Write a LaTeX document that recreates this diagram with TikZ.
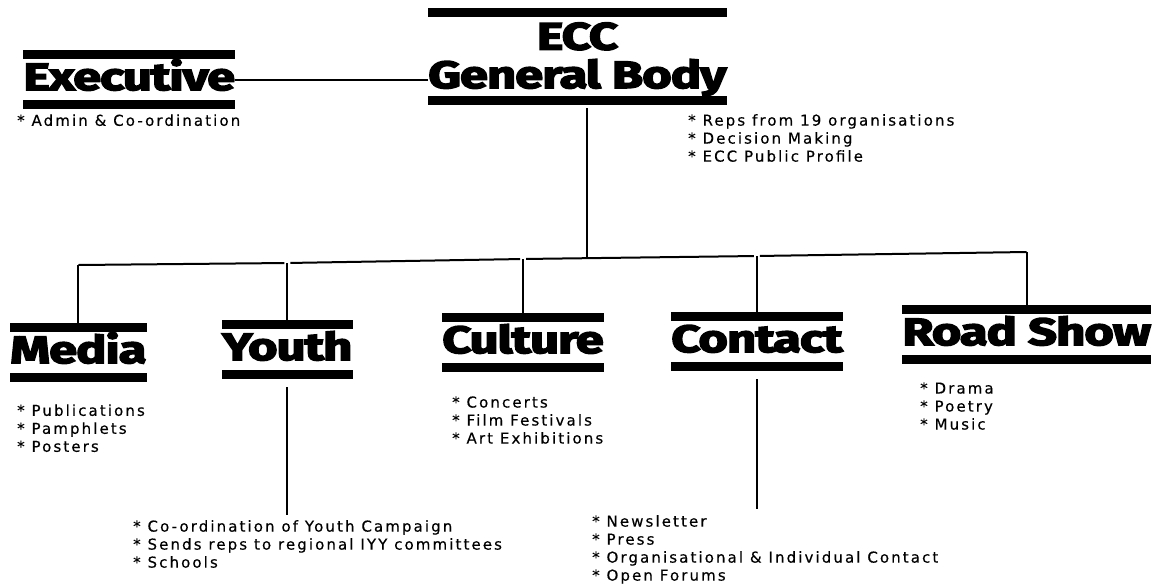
\documentclass[tikz,border=0pt]{standalone}
\usepackage{fontspec}
\usetikzlibrary{positioning}
\newfontfamily\headfont{Fira Sans}[FakeStretch=1.34, FakeBold=4, LetterSpace=-3]
\newfontfamily\listfont{DejaVu Sans}[LetterSpace=14, FakeBold=0.4]

\begin{document}
\begin{tikzpicture}[
        x=1pt, y=-1pt,
        node distance=6pt,
        headbox/.style={inner sep=0pt, font=\headfont\bfseries\fontsize{38}{32}\selectfont,
            text height=40pt, text depth=19pt},
        duties/.style={inner sep=0pt, align=left, font=\listfont\fontsize{15}{18}\selectfont},
        link/.style={line width=2pt}
    ]
    \useasboundingbox (0,0) rectangle (1157,584);

    % The headings
    \node (gb) [headbox, text height=80pt, text depth=17pt, anchor=base west] at (428,88)
        {\begin{tabular}[b]{@{}c@{}}ECC\\General Body\end{tabular}};
    \node (exec) [headbox, anchor=base west] at (23,90) {Executive};
    \node (media) [headbox, anchor=base west] at (10,363) {Media};
    \node (youth) [headbox, anchor=base west] at (222,360) {Youth};
    \node (culture) [headbox, anchor=base west] at (442,353) {Culture};
    \node (contact) [headbox, anchor=base west] at (671,352) {Contact};
    \node (road) [headbox, anchor=base west] at (902,345) {Road Show};

    % Bars above and below each heading
    \foreach \n in {gb, exec, media, youth, culture, contact, road} {
        \fill (\n.north west) rectangle ([yshift=-9pt]\n.north east);
        \fill ([yshift=9pt]\n.south west) rectangle (\n.south east);
    }

    % The duties under each heading
    \node (execlist) [duties, below=5pt of exec.south west, anchor=north west, xshift=-6pt] {* Admin \& Co-ordination};
    \node (gblist) [duties, anchor=north west] at (688,114) {* Reps from 19 organisations\\* Decision Making\\* ECC Public Profile};
    \node (medialist) [duties, below=22pt of media.south west, anchor=north west, xshift=7pt] {* Publications\\* Pamphlets\\* Posters};
    \node (culturelist) [duties, below=24pt of culture.south west, anchor=north west, xshift=10pt] {* Concerts\\* Film Festivals\\* Art Exhibitions};
    \node (roadlist) [duties, below=18pt of road.south west, anchor=north west, xshift=18pt] {* Drama\\* Poetry\\* Music};
    \node (youthlist) [duties, anchor=north west] at (133,520) {* Co-ordination of Youth Campaign\\* Sends reps to regional IYY committees\\* Schools};
    \node (contactlist) [duties, anchor=north west] at (592,515) {* Newsletter\\* Press\\* Organisational \& Individual Contact\\* Open Forums};

    % The lines between them
    \draw [link] (exec.east) -- (exec.east -| gb.west);
    \coordinate (hub) at (587,258);
    \draw [link, shorten <=3pt] (hub |- gb.south) -- (hub);
    \draw [link, shorten >=3pt] (media.north |- 0,265) -- (youth.north |- 0,263);
    \draw [link, shorten <=3pt, shorten >=3pt] (youth.north |- 0,263) -- (culture.north |- 0,259);
    \draw [link, shorten <=3pt, shorten >=3pt] (culture.north |- 0,259) -- (contact.north |- 0,256);
    \draw [link, shorten <=3pt] (contact.north |- 0,256) -- (road.north |- 0,252);
    \foreach \n/\by in {media/265, youth/263, culture/259, contact/256, road/252}
        \draw [link] (\n.north |- 0,\by) -- (\n.north);
    \draw [link, shorten <=8pt, shorten >=5pt] (youth.south) -- (youth.south |- youthlist.north);
    \draw [link, shorten <=8pt, shorten >=6pt] (contact.south) -- (contact.south |- contactlist.north);

\end{tikzpicture}
\end{document}
